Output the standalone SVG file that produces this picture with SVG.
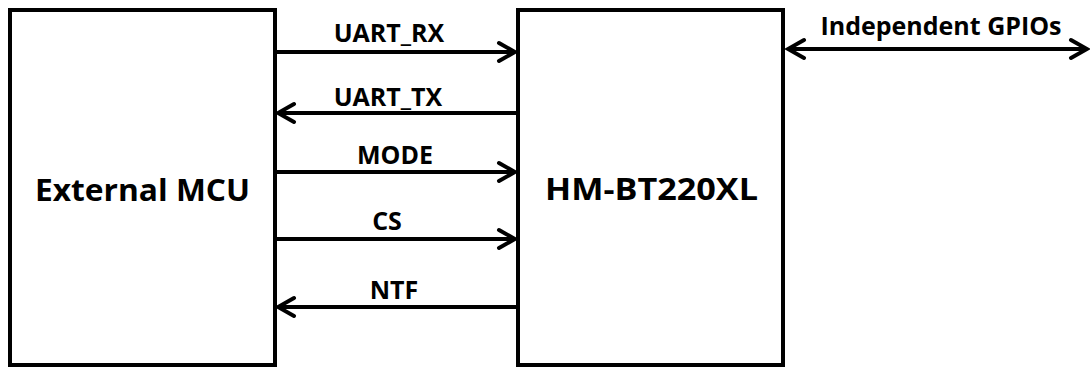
<svg xmlns="http://www.w3.org/2000/svg" width="1090" height="367" viewBox="0 0 1090 367">
  <style>
    .box { fill: #ffffff; stroke: #000000; stroke-width: 4; }
    .big { font-family: "Open Sans", "Noto Sans", sans-serif; font-weight: bold; font-size: 31px; fill: #000; text-anchor: middle; }
    .lbl { font-family: "Open Sans", "Noto Sans", sans-serif; font-weight: bold; font-size: 25px; fill: #000; text-anchor: middle; }
    .wire { stroke: #000000; stroke-width: 4; fill: none; }
  </style>
  <defs>
    <marker id="arr" markerUnits="userSpaceOnUse" viewBox="-2 -2 22 24" markerWidth="22" markerHeight="24" refX="17" refY="10" orient="auto-start-reverse">
      <path d="M1,1 L17,10 L1,19" fill="none" stroke="#000" stroke-width="4" stroke-linecap="round" stroke-linejoin="miter"/>
    </marker>
  </defs>
  <rect width="1090" height="367" fill="#ffffff"/>
  <g id="mcu">
    <rect class="box" x="10" y="10" width="265" height="355"/>
    <text class="big" x="142.5" y="201" textLength="215" lengthAdjust="spacingAndGlyphs">External MCU</text>
  </g>
  <g id="hm">
    <rect class="box" x="518" y="10" width="265" height="355"/>
    <text class="big" x="651.5" y="200" textLength="213" lengthAdjust="spacingAndGlyphs">HM-BT220XL</text>
  </g>
  <g id="connectors">
    <line class="wire" x1="275" y1="52" x2="515" y2="52" marker-end="url(#arr)"/>
    <line class="wire" x1="516" y1="113" x2="278" y2="113" marker-end="url(#arr)"/>
    <line class="wire" x1="275" y1="172" x2="515" y2="172" marker-end="url(#arr)"/>
    <line class="wire" x1="275" y1="239" x2="515" y2="239" marker-end="url(#arr)"/>
    <line class="wire" x1="516" y1="307" x2="278" y2="307" marker-end="url(#arr)"/>
    <line class="wire" x1="788" y1="49" x2="1087" y2="49" marker-start="url(#arr)" marker-end="url(#arr)"/>
  </g>
  <g id="labels">
    <text class="lbl" x="389" y="42">UART_RX</text>
    <text class="lbl" x="388" y="106">UART_TX</text>
    <text class="lbl" x="395" y="164">MODE</text>
    <text class="lbl" x="387" y="230">CS</text>
    <text class="lbl" x="394" y="299">NTF</text>
    <text class="lbl" x="941" y="35" font-size="24">Independent GPIOs</text>
  </g>
</svg>
